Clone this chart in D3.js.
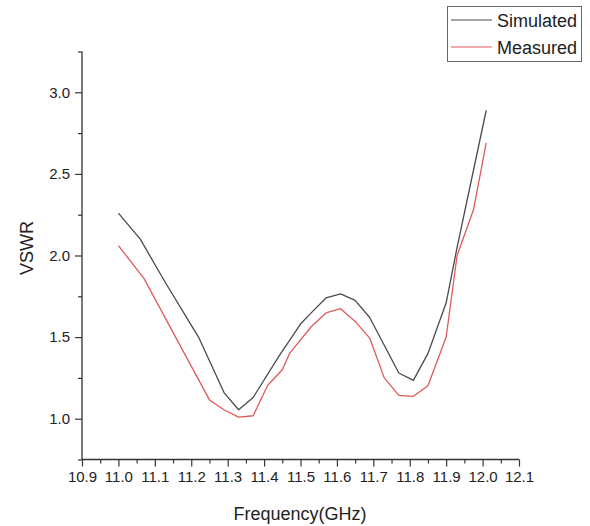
<!DOCTYPE html>
<html>
<head>
<meta charset="utf-8">
<script src="https://cdn.jsdelivr.net/npm/d3@7"></script>
<style>
  html, body { margin: 0; padding: 0; background: #fff; }
  svg { display: block; font-family: Arial, "Liberation Sans", sans-serif; }
</style>
</head>
<body>
<svg id="chart" width="590" height="526"></svg>
<script>
// ---- data ----
const simFreq = [11.00, 11.06, 11.13, 11.22, 11.29, 11.33, 11.37, 11.44, 11.50, 11.53, 11.57, 11.61, 11.65, 11.69, 11.77, 11.81, 11.85, 11.90, 11.93, 12.01];
const simVSWR = [2.26, 2.10, 1.83, 1.50, 1.16, 1.055, 1.13, 1.38, 1.58, 1.65, 1.74, 1.765, 1.725, 1.62, 1.28, 1.235, 1.40, 1.71, 2.05, 2.89];
const measFreq = [11.00, 11.07, 11.25, 11.29, 11.33, 11.37, 11.41, 11.45, 11.47, 11.53, 11.57, 11.61, 11.65, 11.69, 11.73, 11.77, 11.81, 11.85, 11.90, 11.93, 11.975, 12.01];
const measVSWR = [2.06, 1.86, 1.115, 1.055, 1.01, 1.018, 1.205, 1.30, 1.40, 1.565, 1.648, 1.674, 1.596, 1.494, 1.25, 1.143, 1.137, 1.202, 1.50, 2.00, 2.28, 2.69];
const xTicks = [10.9, 11.0, 11.1, 11.2, 11.3, 11.4, 11.5, 11.6, 11.7, 11.8, 11.9, 12.0, 12.1];
const yTicks = [1.0, 1.5, 2.0, 2.5, 3.0];
const seriesNames = ["Simulated", "Measured"];
const seriesColors = ["#4a4a4a", "#e05a5a"];

const svg = d3.select("#chart");
const x = d3.scaleLinear().domain([10.9, 12.1]).range([82, 519]);
const y = d3.scaleLinear().domain([0.75, 3.25]).range([459.5, 51.5]);
const axisColor = "#333";

// X axis
const xAxis = svg.append("g").attr("transform", "translate(0,459.5)")
  .call(d3.axisBottom(x).tickValues(xTicks).tickFormat(d3.format(".1f")).tickSize(7).tickPadding(5));
// minor x ticks
svg.append("g").attr("transform", "translate(0,459.5)")
  .call(d3.axisBottom(x).tickValues(d3.range(0, 12).map(i => 10.95 + i * 0.1)).tickFormat("").tickSize(4))
  .select(".domain").remove();

// Y axis
const yAxis = svg.append("g").attr("transform", "translate(82,0)")
  .call(d3.axisLeft(y).tickValues(yTicks).tickFormat(d3.format(".1f")).tickSize(7).tickPadding(5));
svg.append("g").attr("transform", "translate(82,0)")
  .call(d3.axisLeft(y).tickValues([0.75, 1.25, 1.75, 2.25, 2.75, 3.25]).tickFormat("").tickSize(4))
  .select(".domain").remove();

svg.selectAll(".domain").attr("stroke", axisColor).attr("stroke-width", 1.3);
svg.selectAll(".tick line").attr("stroke", axisColor).attr("stroke-width", 1.2);
svg.selectAll(".tick text").attr("fill", "#222").style("font-size", "15px");
xAxis.selectAll(".domain").attr("d", "M82,0H519");
yAxis.selectAll(".domain").attr("d", "M0,459.5V51.5");

// Axis titles
svg.append("text").attr("x", 300).attr("y", 520).attr("text-anchor", "middle")
  .attr("fill", "#222").style("font-size", "18px").text("Frequency(GHz)");
svg.append("text").attr("transform", "translate(33,248) rotate(-90)").attr("text-anchor", "middle")
  .attr("fill", "#222").style("font-size", "18px").text("VSWR");

// Lines
const line = d3.line().x(d => x(d[0])).y(d => y(d[1]));
const sim = simFreq.map((f, i) => [f, simVSWR[i]]);
const meas = measFreq.map((f, i) => [f, measVSWR[i]]);
[sim, meas].forEach((data, i) => {
  svg.append("path").datum(data).attr("d", line)
    .attr("fill", "none").attr("stroke", seriesColors[i]).attr("stroke-width", 1.3)
    .attr("stroke-linejoin", "round");
});

// Legend
const lg = svg.append("g");
lg.append("rect").attr("x", 447.5).attr("y", 6.5).attr("width", 134).attr("height", 55)
  .attr("fill", "#fff").attr("stroke", "#666").attr("stroke-width", 1);
seriesNames.forEach((name, i) => {
  const yy = 20 + i * 27;
  lg.append("line").attr("x1", 451).attr("x2", 492).attr("y1", yy).attr("y2", yy)
    .attr("stroke", seriesColors[i]).attr("stroke-width", 1.2);
  lg.append("text").attr("x", 497).attr("y", yy + 7).attr("fill", "#222")
    .style("font-size", "18px").text(name);
});
</script>
</body>
</html>
